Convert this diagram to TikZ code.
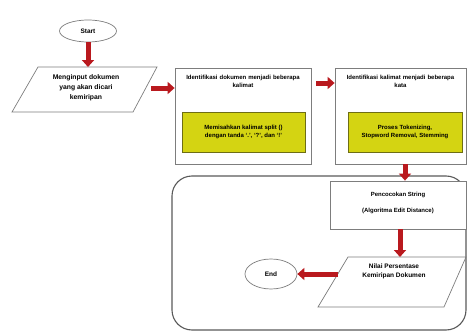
\documentclass[tikz,border=0pt]{standalone}
\usepackage{fontspec}
\setmainfont{Liberation Sans}
\usetikzlibrary{shapes.geometric,arrows.meta}
\definecolor{arrred}{RGB}{185,25,30}
\definecolor{boxgray}{RGB}{125,125,125}
\definecolor{ylw}{RGB}{212,212,18}
\definecolor{ylwb}{RGB}{110,110,20}
\tikzset{
  lbl/.style={font=\fontsize{6}{8}\selectfont\bfseries, align=center, inner sep=0pt},
  termnode/.style={ellipse, draw=boxgray, line width=0.7pt, font=\fontsize{6.5}{8}\selectfont\bfseries, inner sep=0pt},
  procbox/.style={draw=boxgray, line width=0.8pt, inner sep=0pt},
  ylwbox/.style={draw=ylwb, fill=ylw, line width=0.8pt, inner sep=0pt, font=\fontsize{6}{8}\selectfont\bfseries, align=center},
  redarrow/.style={draw=arrred, line width=5pt, -{Triangle[length=7pt,width=12pt]}},
  iobox/.style={draw=boxgray, line width=0.7pt}
}
\begin{document}
\begin{tikzpicture}[x=1pt,y=-1pt]
\useasboundingbox (0,0) rectangle (467,332);
% start
\node[termnode, minimum width=57pt, minimum height=22pt] (start) at (88,31) {Start};
% parallelogram 1
\draw[iobox] (38,67) -- (157,67) -- (133,112) -- (12,112) -- cycle;
\node[lbl, font=\fontsize{6.8}{10}\selectfont\bfseries] (p1) at (86,88) {Menginput dokumen\\yang akan dicari\\kemiripan};
\coordinate (p1top) at (88,67);
\coordinate (p1right) at (151,88);
% box 2
\node[procbox, minimum width=136pt, minimum height=96pt] (b2) at (243,116) {};
\node[lbl, text width=130pt] (b2t) at (243,81) {Identifikasi dokumen menjadi beberapa\\kalimat};
\node[ylwbox, minimum width=123pt, minimum height=40pt] (y2) at (243.5,132) {Memisahkan kalimat split ()\\dengan tanda `.', `?', dan `!'};
% box 3
\node[procbox, minimum width=131pt, minimum height=96pt] (b3) at (400.5,116) {};
\node[lbl, text width=128pt] (b3t) at (400.5,81) {Identifikasi kalimat menjadi beberapa\\kata};
\node[ylwbox, minimum width=114pt, minimum height=40pt] (y3) at (405,132) {Proses Tokenizing,\\Stopword Removal, Stemming};
% container
\draw[draw=black!65, line width=1.1pt, rounded corners=20pt] (172,176) rectangle (466,330);
% box 4
\node[procbox, fill=white, minimum width=136pt, minimum height=48pt] (b4) at (398,205) {};
\node[lbl] (b4t) at (398,203) {Pencocokan String\\[8pt](Algoritma Edit Distance)};
% parallelogram 2
\draw[iobox] (348,257) -- (466,257) -- (444,307) -- (318,307) -- cycle;
\node[lbl, font=\fontsize{6.5}{9}\selectfont\bfseries] (p2) at (394,271) {Nilai Persentase\\Kemiripan Dokumen};
\coordinate (p2top) at (400,257);
\coordinate (p2left) at (338,274);
% end
\node[termnode, minimum width=52pt, minimum height=30pt] (end) at (271,274) {End};
% arrows
\draw[redarrow] (start.south) -- (p1top);
\draw[redarrow] (p1right) -- (b2.west |- p1right);
\coordinate (b2a) at (b2.east |- 0,83);
\draw[redarrow] ([xshift=5pt]b2a) -- (b3.west |- b2a);
\coordinate (b3a) at (b3.south -| 405,0);
\draw[redarrow] (b3a) -- (b4.north -| b3a);
\coordinate (b4a) at (b4.south -| 400,0);
\draw[redarrow] (b4a) -- (p2top);
\draw[redarrow] (p2left) -- (end.east);
\end{tikzpicture}
\end{document}
